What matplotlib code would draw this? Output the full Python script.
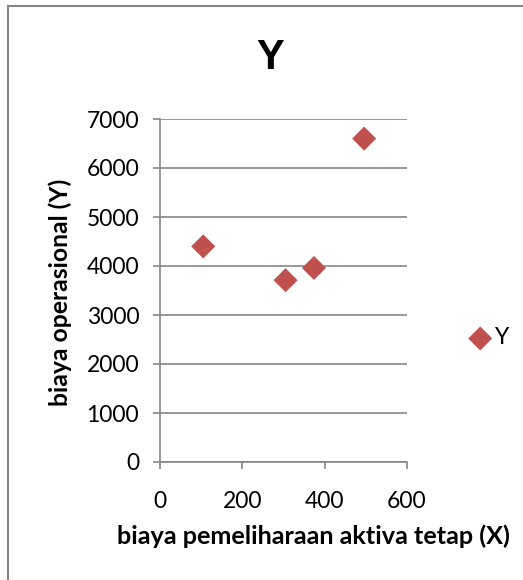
import matplotlib
matplotlib.use("Agg")
import matplotlib.pyplot as plt
from matplotlib.lines import Line2D

# data
x_vals = [105, 305, 374, 496]
y_vals = [4400, 3710, 3960, 6600]
series_name = "Y"
title_text = "Y"
x_label = "biaya pemeliharaan aktiva tetap (X)"
y_label = "biaya operasional (Y)"
x_ticks = [0, 200, 400, 600]
y_ticks = [0, 1000, 2000, 3000, 4000, 5000, 6000, 7000]

W, H = 523, 580
DPI = 100
fig = plt.figure(figsize=(W / DPI, H / DPI), dpi=DPI)
fig.patch.set_facecolor("white")

grey = "#868686"
red = "#C0504D"
font = "Lato"

ax = fig.add_axes([160 / W, 1 - 462 / H, (407 - 160) / W, (462 - 119) / H])
ax.scatter(x_vals, y_vals, marker="D", s=150, color=red, edgecolors="none",
           label=series_name, zorder=3)
ax.set_xlim(0, 600)
ax.set_ylim(0, 7000)
ax.set_xticks(x_ticks)
ax.set_yticks(y_ticks)
ax.set_xticklabels([str(t) for t in x_ticks], fontsize=16.5, family=font)
ax.set_yticklabels([str(t) for t in y_ticks], fontsize=16.5, family=font)
for s in ["top", "right"]:
    ax.spines[s].set_visible(False)
for s in ["left", "bottom"]:
    ax.spines[s].set_color(grey)
    ax.spines[s].set_linewidth(1.2)
ax.tick_params(axis="both", direction="out", length=5, width=1.2, color=grey,
               labelcolor="black")
ax.tick_params(axis="y", pad=10)
ax.tick_params(axis="x", pad=16)
ax.yaxis.grid(True, color=grey, linewidth=1.2)
ax.set_axisbelow(True)

fig.text(270 / W, 1 - 58 / H, title_text, fontsize=30, fontweight="bold",
         family="Liberation Sans", ha="center", va="center")
fig.text(60 / W, 1 - 292 / H, y_label, fontsize=17.8, fontweight="bold",
         family=font, rotation=90, ha="center", va="center")
fig.text(313 / W, 1 - 536 / H, x_label, fontsize=18.2, fontweight="bold",
         family=font, ha="center", va="center")

leg = fig.legend(loc="center left", bbox_to_anchor=(455 / W, 1 - 338 / H),
                 frameon=False, prop={"family": font, "size": 16.5},
                 handletextpad=0.05, borderpad=0, handlelength=1.2,
                 scatterpoints=1)

# outer chart frame
fig.add_artist(Line2D([8 / W, 1.0], [1 - 6 / H, 1 - 6 / H], color=grey,
                      linewidth=1.5, transform=fig.transFigure))
fig.add_artist(Line2D([8 / W, 8 / W], [1 - 6 / H, 0.0], color=grey,
                      linewidth=1.5, transform=fig.transFigure))

fig.savefig("out.png", dpi=DPI)
